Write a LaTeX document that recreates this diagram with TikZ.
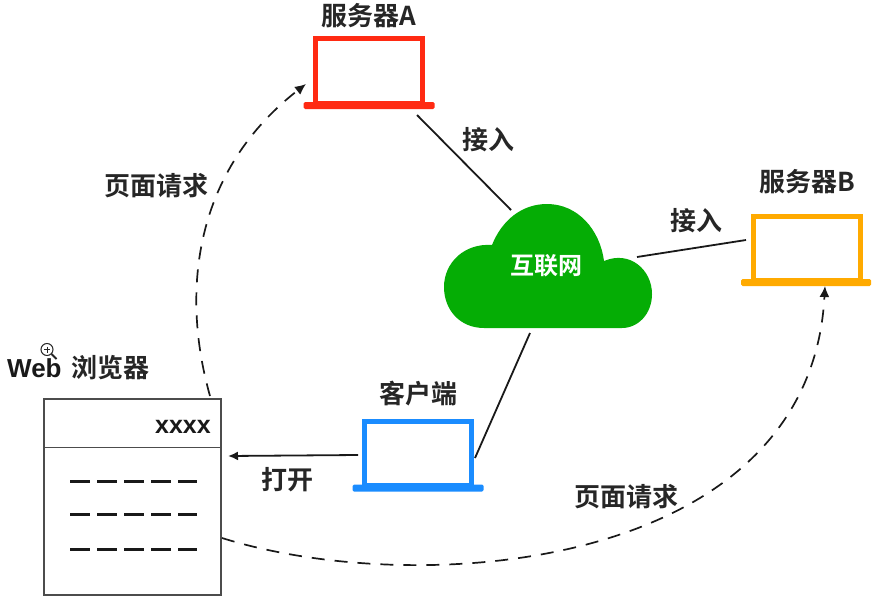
\documentclass[tikz,border=0pt]{standalone}
\usepackage{fontspec}
\setmainfont{Liberation Sans}
\newfontfamily\cjk{Noto Sans CJK SC}[BoldFont={Noto Sans CJK SC Bold}]
\usetikzlibrary{arrows.meta}
\definecolor{cred}{HTML}{FF2A12}
\definecolor{corange}{HTML}{FFAA00}
\definecolor{cblue}{HTML}{1A8CFF}
\definecolor{cgreen}{HTML}{05AD05}
\tikzset{
 lab/.style={font=\cjk\bfseries\fontsize{26}{26}\selectfont,inner sep=0pt,text=black!85},
 screen/.style={draw=#1,line width=5pt,minimum width=107pt,minimum height=64pt,inner sep=0pt,fill=white},
 base/.style={fill=#1,minimum width=131pt,minimum height=7pt,inner sep=0pt,rounded corners=1.5pt},
 conn/.style={line width=1.8pt,black!90},
 dashconn/.style={line width=1.7pt,black!90,dash pattern=on 13pt off 10pt,-{Latex[length=11pt,width=10pt]}},
 dashline/.style={line width=3pt,black!90,dash pattern=on 20pt off 7pt}
}
\begin{document}
\begin{tikzpicture}[x=1pt,y=-1pt]
\useasboundingbox (0,0) rectangle (877,602);
% cloud
\fill[cgreen] (484,328) .. controls (460,328) and (444,310) .. (444,287)
 .. controls (444,263) and (464,243) .. (492,245)
 .. controls (502,220) and (522,204) .. (547,204)
 .. controls (578,204) and (600,230) .. (604,261)
 .. controls (630,250) and (652,270) .. (652,294)
 .. controls (652,314) and (638,328) .. (622,328) -- cycle;
\node[lab,text=white,font=\cjk\bfseries\fontsize{24}{24}\selectfont] (net) at (546,266) {互联网};
\coordinate (netA) at (511,210);
\coordinate (netB) at (637,257);
\coordinate (netC) at (530,333);
% server A
\node[screen=cred] (sa) at (369,71) {};
\node[base=cred] (sab) at (369,105.5) {};
\node[lab,anchor=center] (sal) at (369,16) {服务器A};
% server B
\node[screen=corange] (sb) at (807,248) {};
\node[base=corange,minimum width=130pt] (sbb) at (806,282.5) {};
\node[lab] (sbl) at (807,182) {服务器B};
% client
\node[screen=cblue] (c) at (417.5,453) {};
\node[base=cblue] (cb) at (418,488) {};
\node[lab] (cl) at (418,394) {客户端};
% browser
\node[draw=black!70,line width=1.2pt,minimum width=177pt,minimum height=196pt,inner sep=0pt] (br) at (132.5,497) {};
\coordinate (brL) at (44,447.5);
\coordinate (brR) at (221,447.5);
\draw[black!70,line width=1.2pt] (brL) -- (brR);
\node[font=\bfseries\fontsize{25}{25}\selectfont,inner sep=0pt,text=black!90] (x) at (183,427) {xxxx};
\foreach \yy/\nm in {481/a,514/b,549/c}{
 \coordinate (d\nm1) at (70,\yy);
 \coordinate (d\nm2) at (197,\yy);
 \draw[dashline] (d\nm1) -- (d\nm2);
}
\node[inner sep=0pt,anchor=west,font=\bfseries\fontsize{26}{26}\selectfont,text=black!90] (web) at (7,368) {Web};
\node[lab,anchor=west] (webz) at (71,368) {浏览器};
% magnifier
\draw[black!85,line width=1pt] (47,349.5) circle (6pt);
\draw[black!85,line width=1pt] (44,349.5) -- (50,349.5) (47,346.5) -- (47,352.5);
\draw[black!85,line width=1.8pt] (51.5,354) -- (56.5,359);
% connectors
\coordinate (saEnd) at (417,115);
\coordinate (sbEnd) at (746,240);
\coordinate (cEnd) at (475,458);
\coordinate (cArrow) at (358,455);
\coordinate (brArrow) at (228,456);
\draw[conn] (saEnd) -- (netA);
\draw[conn] (netB) -- (sbEnd);
\draw[conn] (netC) -- (cEnd);
\draw[conn,-{Latex[length=10pt,width=9pt]}] (cArrow) -- (brArrow);
\coordinate (d1s) at (210,396);
\coordinate (d1e) at (306,84);
\coordinate (d2s) at (222,538);
\coordinate (d2e) at (825,286);
\draw[dashconn] (d1s) .. controls (180,290) and (195,170) .. (d1e);
\draw[dashconn] (d2s) .. controls (420,600) and (810,570) .. (d2e);
% labels
\node[lab] (l1) at (488,140) {接入};
\node[lab] (l2) at (696,221) {接入};
\node[lab] (l3) at (287,480) {打开};
\node[lab] (l4) at (156,186) {页面请求};
\node[lab] (l5) at (626,497) {页面请求};
\end{tikzpicture}
\end{document}
